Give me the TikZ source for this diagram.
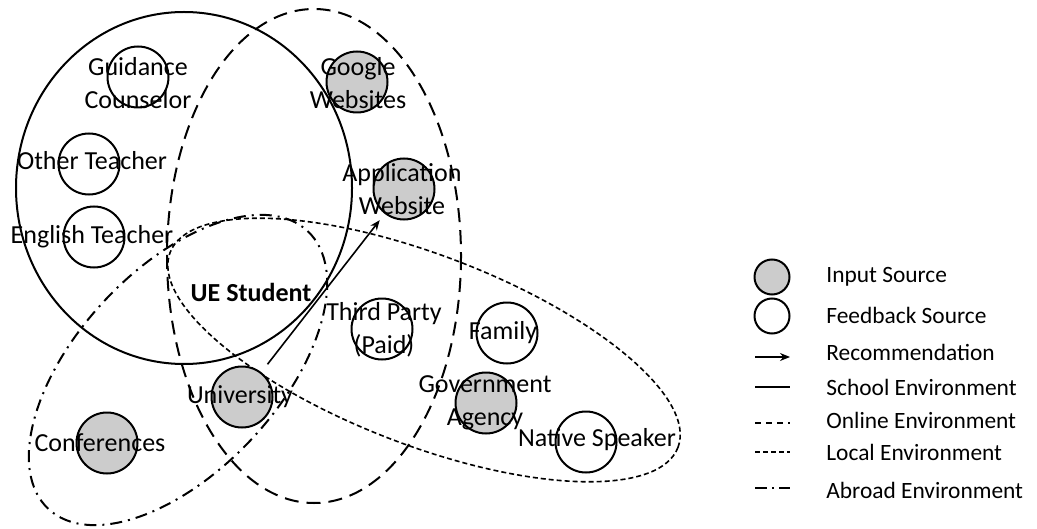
\documentclass[tikz,border=0pt]{standalone}
\usepackage{fontspec}
\setmainfont{Carlito}
\usetikzlibrary{arrows.meta}
\begin{document}
\begin{tikzpicture}[x=0.5pt, y=-0.5pt, font=\fontsize{13}{16.5}\selectfont,
    quelle/.style={circle, draw=black, line width=1pt, minimum size=30.5pt, inner sep=0pt},
    eingabe/.style={quelle, fill=eingabegrau},
    rueckmeldung/.style={quelle},
    umfeld/.style={line width=1pt},
    schule/.style={umfeld},
    online/.style={umfeld, dash pattern=on 7pt off 4pt},
    lokal/.style={umfeld, line width=0.8pt, dash pattern=on 2.5pt off 1.5pt},
    ausland/.style={umfeld, dash pattern=on 6pt off 3pt on 1pt off 3pt},
    empfehlung/.style={line width=0.8pt, -{Stealth[length=5pt, width=4pt]}},
    beschriftung/.style={align=center, inner sep=0pt},
    legende/.style={anchor=west, inner sep=0pt, font=\fontsize{11.7}{14}\selectfont},
  ]
  \definecolor{eingabegrau}{RGB}{204,204,204}
  \useasboundingbox (0,0) rectangle (1037,529);

  % ---------------- Umfelder ----------------------------------------
  \draw[schule] (184,188) ellipse [x radius=168, y radius=176];
  \draw[online] (314,256) ellipse [x radius=147, y radius=247];
  \draw[lokal, rotate around={-21:(424,350)}] (424,350) ellipse [x radius=272, y radius=95];
  \draw[ausland, rotate around={47:(178,370)}] (178,370) ellipse [x radius=190, y radius=101];

  % ---------------- Quellen -----------------------------------------
  \node[rueckmeldung] (berater) at (138,77) {};
  \node[eingabe] (google) at (357,82) {};
  \node[rueckmeldung] (lehrer) at (89,164) {};
  \node[eingabe] (bewerbung) at (404,189) {};
  \node[rueckmeldung] (englisch) at (94,237) {};
  \node[rueckmeldung] (dritte) at (382,329) {};
  \node[rueckmeldung] (familie) at (507,333) {};
  \node[eingabe] (behoerde) at (486,403) {};
  \node[rueckmeldung] (muttersprachler) at (586,442) {};
  \node[eingabe] (uni) at (242,397) {};
  \node[eingabe] (konferenz) at (107,443) {};

  % Empfehlung der Universitaet
  \draw[empfehlung, shorten <=5pt, shorten >=4pt] (uni) -- (bewerbung);

  % ---------------- Beschriftungen ----------------------------------
  \node[beschriftung] (t-berater) at (138,83) {Guidance\\Counselor};
  \node[beschriftung] (t-google) at (358,83) {Google\\Websites};
  \node[beschriftung] (t-lehrer) at (92,161) {Other Teacher};
  \node[beschriftung] (t-bewerbung) at (402,189) {Application\\Website};
  \node[beschriftung] (t-englisch) at (92,237) {English Teacher};
  \node[beschriftung, font=\fontsize{13}{16.5}\selectfont\bfseries] (t-student) at (251,292) {UE Student};
  \node[beschriftung] (t-dritte) at (384,330) {Third Party\\(Paid)};
  \node[beschriftung] (t-familie) at (503,333) {Family};
  \node[beschriftung] (t-behoerde) at (485,403) {Government\\Agency};
  \node[beschriftung] (t-muttersprachler) at (597,440) {Native Speaker};
  \node[beschriftung] (t-uni) at (240,397) {University};
  \node[beschriftung] (t-konferenz) at (100,443) {Conferences};

  % ---------------- Legende -----------------------------------------
  \node[eingabe, minimum size=17.5pt] (l-eingabe) at (772,277) {};
  \node[rueckmeldung, minimum size=17.5pt] (l-rueckmeldung) at (772,316) {};
  \draw[empfehlung] (755,357) -- (790,357);
  \draw[schule] (755,387) -- (790,387);
  \draw[online, dash pattern=on 3pt off 2.5pt] (755,423) -- (790,423);
  \draw[lokal] (755,452) -- (790,452);
  \draw[ausland, dash pattern=on 6pt off 2.5pt on 1pt off 2.5pt] (755,488) -- (790,488);
  \node[legende] (t-l-eingabe) at (826,277) {Input Source};
  \node[legende] (t-l-rueckmeldung) at (826,315) {Feedback Source};
  \node[legende] (t-l-empfehlung) at (826,352) {Recommendation};
  \node[legende] (t-l-schule) at (826,387) {School Environment};
  \node[legende] (t-l-online) at (826,420) {Online Environment};
  \node[legende] (t-l-lokal) at (826,452) {Local Environment};
  \node[legende] (t-l-ausland) at (826,490) {Abroad Environment};
\end{tikzpicture}
\end{document}
